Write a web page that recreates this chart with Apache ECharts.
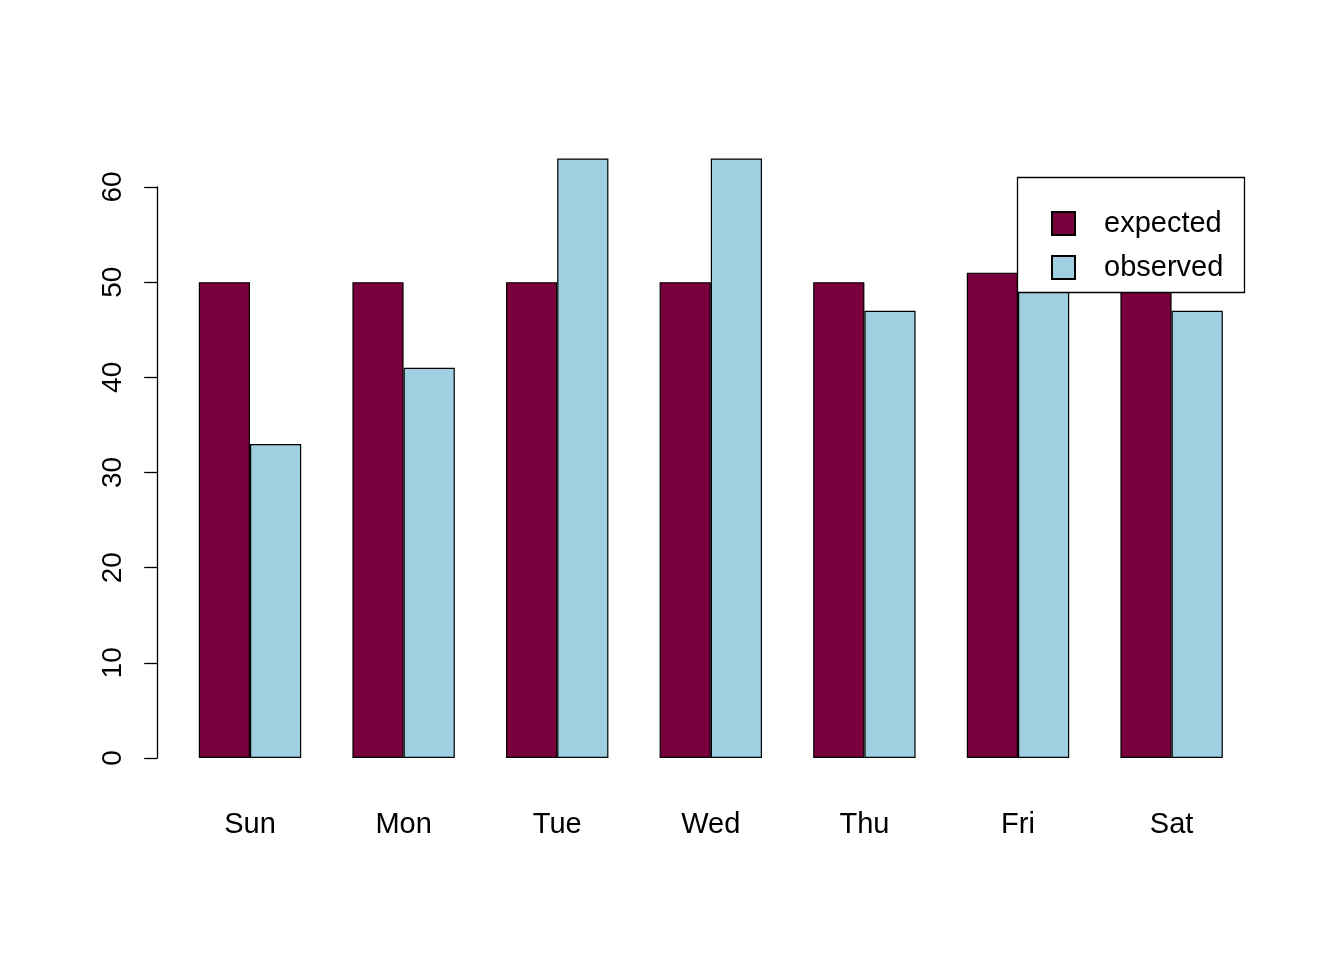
<!DOCTYPE html>
<html><head><meta charset="utf-8">
<script src="https://cdn.jsdelivr.net/npm/echarts@6/dist/echarts.min.js"></script>
<style>html,body{margin:0;padding:0;background:#fff}#c{width:1344px;height:960px}</style>
</head><body><div id="c"></div>
<script>
const categories = ['Sun','Mon','Tue','Wed','Thu','Fri','Sat'];
const expected = [50,50,50,50,50,51,49];
const observed = [33,41,63,63,47,56,47];
const yTicks = [0,10,20,30,40,50,60];
const font = 'Liberation Sans, Arial, sans-serif';
const chart = echarts.init(document.getElementById('c'));
chart.setOption({
  animation:false,
  grid:{left:173.2, right:1344-1248.4, top:187, bottom:202},
  xAxis:{type:'category', data:categories, axisLine:{show:false}, axisTick:{show:false},
    axisLabel:{fontSize:29, color:'#000', fontFamily:font, margin:52}},
  yAxis:{type:'value', min:0, max:60, interval:10, offset:16, splitLine:{show:false},
    axisLine:{show:true, lineStyle:{color:'#000', width:1.3}},
    axisTick:{show:true, length:13, lineStyle:{color:'#000', width:1.3}},
    axisLabel:{fontSize:28, color:'#000', fontFamily:font, rotate:90, margin:30,
      formatter:v=>yTicks.includes(v)?String(v):''}},
  legend:{orient:'vertical', left:1046, top:204, itemWidth:23, itemHeight:23, itemGap:15,
    icon:'rect', textStyle:{fontSize:29, color:'#000', fontFamily:font, padding:[0,0,0,24]},
    data:['expected','observed'], selectedMode:false},
  graphic:[{type:'rect', z:3, shape:{x:1017.5, y:177.5, width:227, height:115},
    style:{fill:'#fff', stroke:'#000', lineWidth:1.3}}],
  series:[
    {name:'expected', type:'bar', data:expected, barWidth:51.2, barGap:'0%', clip:false,
      itemStyle:{color:'#78003c', borderColor:'#000', borderWidth:1.2}},
    {name:'observed', type:'bar', data:observed, barWidth:51.2, barGap:'0%', clip:false,
      itemStyle:{color:'#9fcfe1', borderColor:'#000', borderWidth:1.2}}
  ]
});
</script></body></html>
